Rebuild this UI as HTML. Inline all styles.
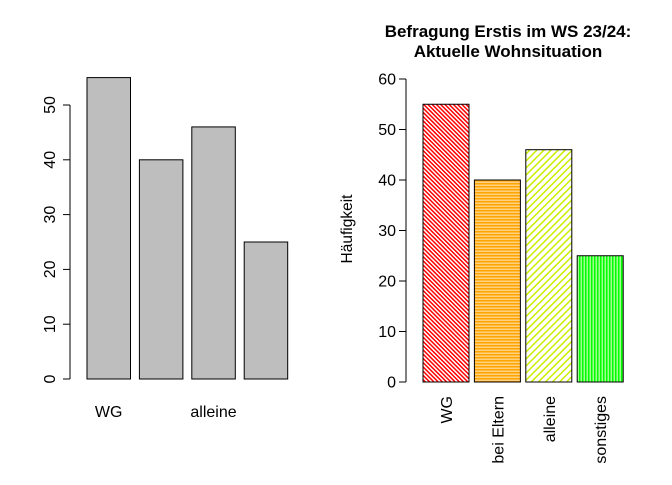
<!DOCTYPE html>
<html><head><meta charset="utf-8"><style>
body{margin:0;background:#fff}
svg text{font-family:"Liberation Sans",sans-serif;fill:#000}
</style></head><body>
<svg width="672" height="480" xmlns="http://www.w3.org/2000/svg">
<defs>
<pattern id="pRed" width="3" height="3" patternUnits="userSpaceOnUse" patternTransform="rotate(-45)"><rect width="3" height="3" fill="#fff"/><rect width="1.5" height="3" fill="#ff0000"/></pattern>
<pattern id="pOrange" width="3" height="3" patternUnits="userSpaceOnUse"><rect width="3" height="3" fill="#ffd080"/><rect width="3" height="1.5" fill="#ffa500"/></pattern>
<pattern id="pYellow" width="5" height="5" patternUnits="userSpaceOnUse" patternTransform="rotate(45)"><rect width="5" height="5" fill="#fff"/><rect width="1.5" height="5" fill="#ccee00"/></pattern>
<pattern id="pGreen" width="3" height="3" patternUnits="userSpaceOnUse"><rect width="3" height="3" fill="#a0ff90"/><rect width="1.5" height="3" fill="#00ff00"/></pattern>
</defs>
<g id="left"></g>
<g id="right"></g>
<text x="508" y="37" font-size="17" font-weight="bold" text-anchor="middle">Befragung Erstis im WS 23/24:</text>
<text x="508" y="57" font-size="17" font-weight="bold" text-anchor="middle">Aktuelle Wohnsituation</text>
<text transform="translate(352,229) rotate(-90)" font-size="15.5" text-anchor="middle">Häufigkeit</text>
</svg>
<script>
const categories=["WG","bei Eltern","alleine","sonstiges"];
const counts=[55,40,46,25];
const leftTicks=[0,10,20,30,40,50];
const rightTicks=[0,10,20,30,40,50,60];
const leftLabels=["WG","","alleine",""];
const fills=["url(#pRed)","url(#pOrange)","url(#pYellow)","url(#pGreen)"];
const NS="http://www.w3.org/2000/svg";
function mk(p,t,a){const e=document.createElementNS(NS,t);for(const k in a)e.setAttribute(k,a[k]);p.appendChild(e);return e;}
const L=document.getElementById('left');
const ly=v=>379-v*5.48, lx=i=>87+i*52.4;
leftTicks.forEach(v=>{
 const t=mk(L,'line',{x1:63,x2:70,y1:ly(v),y2:ly(v),stroke:'#000'});
 
 const tx=mk(L,'text',{transform:`translate(55,${ly(v)}) rotate(-90)`,'font-size':16,'text-anchor':'middle'});tx.textContent=v;
 
});
const la=mk(L,'line',{x1:70,x2:70,y1:ly(0),y2:ly(50),stroke:'#000'});

counts.forEach((v,i)=>{
 const r=mk(L,'rect',{x:lx(i),y:ly(v),width:43.5,height:v*5.48,fill:'#bebebe',stroke:'#000'});
 
 if(leftLabels[i]){const t=mk(L,'text',{x:lx(i)+21.7,y:417,'font-size':16,'text-anchor':'middle'});t.textContent=leftLabels[i];
 }
});
const R=document.getElementById('right');
const ry=v=>382-v*5.05, rx=i=>423+i*51.4;
rightTicks.forEach(v=>{
 const t=mk(R,'line',{x1:399,x2:406,y1:ry(v),y2:ry(v),stroke:'#000'});
 
 const tx=mk(R,'text',{x:396,y:ry(v)+5.5,'font-size':16,'text-anchor':'end'});tx.textContent=v;
 
});
const ra=mk(R,'line',{x1:406,x2:406,y1:ry(0),y2:ry(60),stroke:'#000'});

counts.forEach((v,i)=>{
 const r=mk(R,'rect',{x:rx(i),y:ry(v),width:46,height:v*5.05,fill:fills[i],stroke:'#000'});
 
 const t=mk(R,'text',{transform:`translate(${rx(i)+29},396) rotate(-90)`,'font-size':16,'text-anchor':'end'});t.textContent=categories[i];
 
});
</script>
</body></html>
